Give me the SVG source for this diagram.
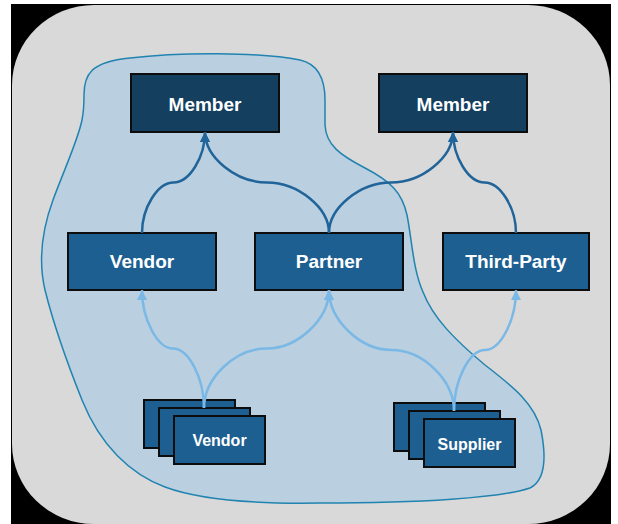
<svg xmlns="http://www.w3.org/2000/svg" width="618" height="524" viewBox="0 0 618 524">
<defs>
<style>
.lbl{font-family:"Liberation Sans",Arial,sans-serif;font-weight:bold;fill:#ffffff;text-anchor:middle}
.big{font-size:19px}
.small{font-size:16px}
.top{fill:#143f5f;stroke:#0d0d0d;stroke-width:2}
.mid{fill:#1d5f91;stroke:#0d0d0d;stroke-width:2}
.dark{fill:none;stroke:#20649a;stroke-width:2.5;marker-end:url(#ad)}
.light{fill:none;stroke:#7ab8e6;stroke-width:2.5;marker-end:url(#al)}
</style>
<marker id="ad" markerUnits="userSpaceOnUse" markerWidth="12" markerHeight="12" viewBox="0 0 12 12" refX="10" refY="6" orient="auto">
<path d="M0,1 L10,6 L0,11 Z" fill="#20649a"/>
</marker>
<marker id="al" markerUnits="userSpaceOnUse" markerWidth="12" markerHeight="12" viewBox="0 0 12 12" refX="10" refY="6" orient="auto">
<path d="M0,1 L10,6 L0,11 Z" fill="#7ab8e6"/>
</marker>
</defs>
<rect x="0" y="0" width="618" height="524" fill="#ffffff"/>
<rect x="11" y="4" width="600" height="521" fill="#000000"/>
<rect x="12" y="5" width="598" height="519" rx="82" ry="80" fill="#d9d9d9"/>
<path id="region" d="M84,95 C84,75 90,62 130,58 C180,52 260,52 300,60 C318,64 325,78 325,100 L325,125 C326,145 340,155 365,168 C390,181 402,192 407,215 C412,240 413,270 423,292 C433,318 455,340 485,365 C515,388 535,405 541,430 C546,455 546,480 530,488 C500,498 420,503 320,503 C260,504 200,500 165,487 C130,474 100,445 82,400 C68,365 55,330 45,290 C38,260 42,230 53,200 C64,170 78,140 82,120 C84,110 84,100 84,95 Z" fill="#bacfdf" stroke="#2183b0" stroke-width="1.5"/>
<g id="member1"><rect class="top" x="131" y="74" width="148" height="58"/><text class="lbl big" x="205" y="111">Member</text></g>
<g id="member2"><rect class="top" x="379" y="74" width="148" height="58"/><text class="lbl big" x="453" y="111">Member</text></g>
<g id="vendor"><rect class="mid" x="68" y="233" width="148" height="57"/><text class="lbl big" x="142" y="268">Vendor</text></g>
<g id="partner"><rect class="mid" x="255" y="233" width="148" height="57"/><text class="lbl big" x="329" y="268">Partner</text></g>
<g id="thirdparty"><rect class="mid" x="443" y="233" width="146" height="57"/><text class="lbl big" x="516" y="268">Third-Party</text></g>
<g id="vendors">
<rect class="mid" x="144" y="400" width="91" height="48"/>
<rect class="mid" x="159" y="408" width="91" height="48"/>
<rect class="mid" x="174" y="416" width="91" height="48"/>
<text class="lbl small" x="219.5" y="446">Vendor</text>
</g>
<g id="suppliers">
<rect class="mid" x="394" y="403" width="91" height="48"/>
<rect class="mid" x="409" y="411" width="91" height="48"/>
<rect class="mid" x="424" y="419" width="91" height="48"/>
<text class="lbl small" x="469.5" y="450">Supplier</text>
</g>
<g id="connectors">
<path class="dark" d="M142,233 C142,207.75 157.75,182.5 173.5,182.5 C189.25,182.5 205,157.25 205,132"/>
<path class="dark" d="M329,233 C329,207.75 298,182.5 267,182.5 C236,182.5 205,157.25 205,132"/>
<path class="dark" d="M329,233 C329,207.75 360,182.5 391,182.5 C422,182.5 453,157.25 453,132"/>
<path class="dark" d="M516,233 C516,207.75 500.25,182.5 484.5,182.5 C468.75,182.5 453,157.25 453,132"/>
<path class="light" d="M204,408 C204,378 188.5,348.5 173,348.5 C157.5,348.5 142,319.25 142,290"/>
<path class="light" d="M204,408 C204,378 235.25,348.5 266.5,348.5 C297.75,348.5 329,319.25 329,290"/>
<path class="light" d="M454,411 C454,380 422.75,350 391.5,350 C360.25,350 329,320 329,290"/>
<path class="light" d="M454,411 C454,380 469.5,350 485,350 C500.5,350 516,320 516,290"/>
</g>
</svg>
